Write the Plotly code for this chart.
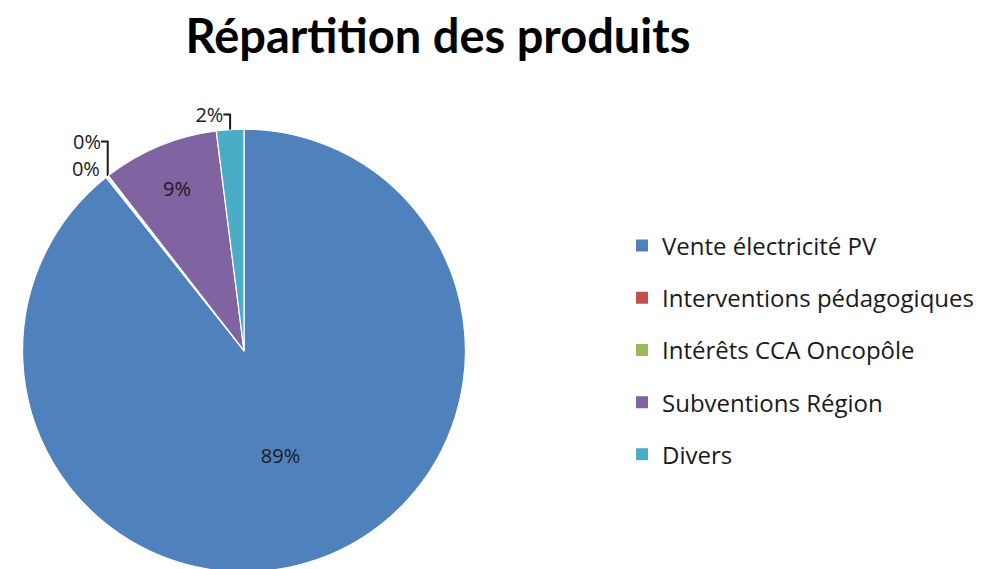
import plotly.graph_objects as go

categories = ["Vente électricité PV", "Interventions pédagogiques", "Intérêts CCA Oncopôle", "Subventions Région", "Divers"]
values = [89.3, 0.1, 0.1, 8.5, 2.0]
colors = ["#4F81BD", "#C0504D", "#9BBB59", "#8064A2", "#4BACC6"]
text_positions = ["inside", "outside", "outside", "inside", "outside"]
title_text = "Répartition des produits"

FONT = "Open Sans"

fig = go.Figure()
fig.add_trace(go.Pie(
    labels=categories,
    values=values,
    sort=False,
    direction="clockwise",
    rotation=0,
    marker=dict(colors=colors, line=dict(color="white", width=1.2)),
    texttemplate="%{percent:.0%}",
    textposition=text_positions,
    textfont=dict(family=FONT, size=20, color="#1a1a1a"),
    insidetextorientation="horizontal",
    showlegend=False,
    domain=dict(x=[13/1005, 459/1005], y=[1/569, 447/569]),
    hoverinfo="label+percent",
))

for name, col in zip(categories, colors):
    fig.add_trace(go.Scatter(
        x=[None], y=[None], mode="markers", name=name,
        marker=dict(symbol="square", size=12, color=col),
        legendgroup=name, showlegend=True, hoverinfo="skip",
    ))

fig.update_layout(
    width=1005, height=569,
    margin=dict(l=0, r=0, t=0, b=0),
    paper_bgcolor="white", plot_bgcolor="white",
    title=dict(text="<b>" + title_text + "</b>", x=430/1005, xanchor="center",
               y=1 - 29/569, yanchor="middle",
               font=dict(family="Lato", size=47, color="#000000")),
    xaxis=dict(visible=False), yaxis=dict(visible=False),
    legend=dict(x=614/1005, xanchor="left", y=1 - 217/569, yanchor="top",
                font=dict(family=FONT, size=24, color="#1a1a1a"),
                tracegroupgap=18, itemsizing="constant",
                bgcolor="rgba(0,0,0,0)"),
)

fig.write_html("out.html")
